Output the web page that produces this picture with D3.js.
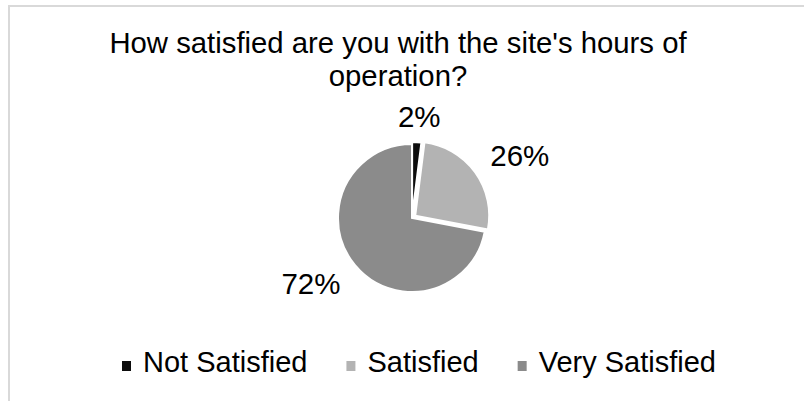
<!DOCTYPE html>
<html>
<head>
<meta charset="utf-8">
<script src="https://cdn.jsdelivr.net/npm/d3@7"></script>
<style>
  body { margin: 0; background: #fff; }
  text { font-family: "Liberation Sans", Arial, sans-serif; fill: #000; }
</style>
</head>
<body>
<svg id="svg"></svg>
<script>
var width = 804, height = 401;

// data
var titleLines = ["How satisfied are you with the site's hours of", "operation?"];
var categories = ["Not Satisfied", "Satisfied", "Very Satisfied"];
var values = [2, 26, 72];
var colors = ["#0d0d0d", "#b3b3b3", "#8b8b8b"];

var svg = d3.select("#svg")
	.attr("width", width)
	.attr("height", height);

svg.append("rect")
	.attr("width", width).attr("height", height)
	.attr("fill", "#fff");

// chart border (runs off right and bottom)
svg.append("rect")
	.attr("x", 9).attr("y", 6)
	.attr("width", width + 20).attr("height", height + 20)
	.attr("fill", "none")
	.attr("stroke", "#d9d9d9")
	.attr("stroke-width", 2);

// title
svg.append("text")
	.attr("text-anchor", "middle")
	.style("font-size", "29.3px")
	.selectAll("tspan")
	.data(titleLines)
	.enter()
	.append("tspan")
	.attr("x", 398)
	.attr("y", function(d, i) { return 53 + i * 33; })
	.text(function(d) { return d; });

// pie
var cx = 412, cy = 218, r = 74;
var explode = [2, 4, 0];

var pie = d3.pie().sort(null)(values);
var arc = d3.arc().innerRadius(0).outerRadius(r);

var g = svg.append("g").attr("transform", "translate(" + cx + "," + cy + ")");

function dir(d) {
	var a = (d.startAngle + d.endAngle) / 2;
	return [Math.sin(a), -Math.cos(a)];
}

g.selectAll(".slice")
	.data(pie)
	.enter()
	.append("path")
	.attr("class", "slice")
	.attr("d", arc)
	.attr("transform", function(d, i) {
		var u = dir(d);
		return "translate(" + (u[0] * explode[i]) + "," + (u[1] * explode[i]) + ")";
	})
	.attr("fill", function(d, i) { return colors[i]; })
	.attr("stroke", "#fff")
	.attr("stroke-width", 2);

// outside-end labels
var labels = g.selectAll(".lbl")
	.data(pie)
	.enter()
	.append("text")
	.attr("class", "lbl")
	.attr("text-anchor", "middle")
	.style("font-size", "29.5px")
	.text(function(d) { return d.data + "%"; });

labels.each(function(d, i) {
	var u = dir(d);
	var m = Math.max(Math.abs(u[0]), Math.abs(u[1]));
	var bb = this.getBBox();
	var w = bb.width + 6, h = 21;
	var rr = r + explode[i] + 15;
	var x = u[0] * rr + (u[0] / m) * w / 2;
	var y = u[1] * rr + (u[1] / m) * h / 2;
	d3.select(this).attr("x", x).attr("y", y + h / 2);
});

// legend
var legend = svg.append("g").attr("transform", "translate(122,372)");
var lx = 0;
categories.forEach(function(c, i) {
	var item = legend.append("g").attr("transform", "translate(" + lx + ",0)");
	item.append("rect")
		.attr("x", 0).attr("y", -11)
		.attr("width", 9).attr("height", 10)
		.attr("fill", colors[i]);
	var t = item.append("text")
		.attr("x", 21).attr("y", 0)
		.style("font-size", "29px")
		.text(c);
	lx += 21 + t.node().getComputedTextLength() + 39;
});
</script>
</body>
</html>
